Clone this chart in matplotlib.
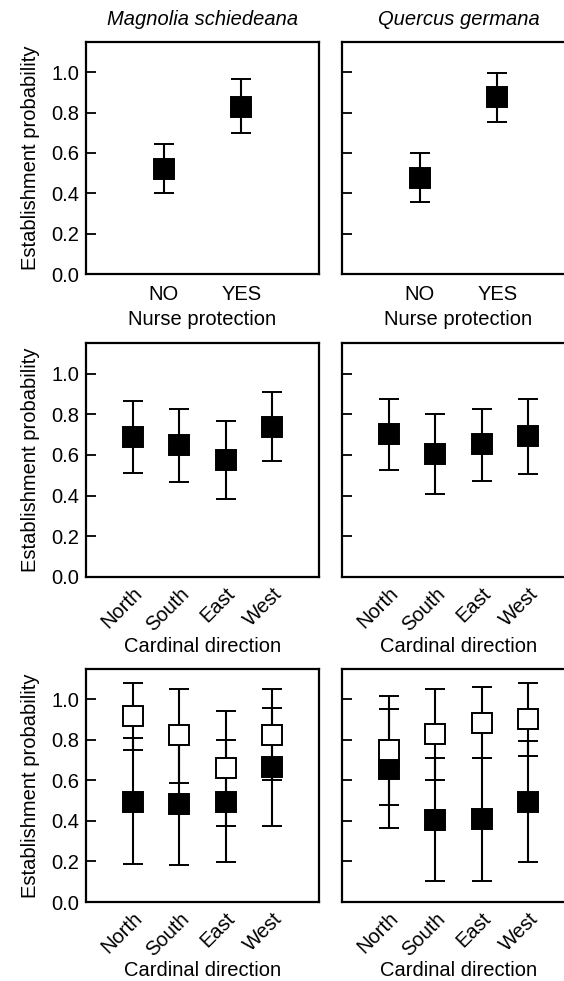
import matplotlib
matplotlib.use('Agg')
import matplotlib.pyplot as plt

plt.rcParams['font.family'] = ['Liberation Sans', 'DejaVu Sans']

species = ['Magnolia schiedeana', 'Quercus germana']
ylabel = 'Establishment probability'

# nurse protection
nurse_labels = ['NO', 'YES']
nurse_mag = [0.52, 0.83]
nurse_mag_lo = [0.40, 0.70]
nurse_mag_hi = [0.645, 0.965]
nurse_que = [0.475, 0.875]
nurse_que_lo = [0.357, 0.752]
nurse_que_hi = [0.60, 0.995]

# cardinal direction
directions = ['North', 'South', 'East', 'West']
dir_mag = [0.688, 0.647, 0.574, 0.737]
dir_mag_lo = [0.513, 0.467, 0.381, 0.569]
dir_mag_hi = [0.863, 0.825, 0.765, 0.910]
dir_que = [0.704, 0.606, 0.652, 0.691]
dir_que_lo = [0.528, 0.41, 0.47, 0.508]
dir_que_hi = [0.874, 0.799, 0.828, 0.873]

# cardinal direction x nurse (open = under nurse, filled = open area)
mag_open = [0.919, 0.824, 0.659, 0.824]
mag_open_lo = [0.75, 0.588, 0.375, 0.601]
mag_open_hi = [1.082, 1.049, 0.942, 1.051]
mag_fill = [0.494, 0.483, 0.494, 0.664]
mag_fill_lo = [0.186, 0.181, 0.198, 0.375]
mag_fill_hi = [0.807, 0.78, 0.799, 0.956]
que_open = [0.75, 0.827, 0.884, 0.901]
que_open_lo = [0.478, 0.601, 0.709, 0.72]
que_open_hi = [1.016, 1.049, 1.059, 1.079]
que_fill = [0.654, 0.404, 0.408, 0.494]
que_fill_lo = [0.363, 0.104, 0.104, 0.195]
que_fill_hi = [0.951, 0.709, 0.712, 0.795]

W, H = 564, 981
fig = plt.figure(figsize=(W / 100, H / 100), dpi=100)

lefts = [86, 342]
rows = [(42, 274), (343, 577), (669, 902)]
aw = 233
FS = 14.5


def make_ax(col, row):
    top, bot = rows[row]
    ax = fig.add_axes([lefts[col] / W, 1 - bot / H, aw / W, (bot - top) / H])
    ax.set_ylim(0, 1.15)
    ax.set_yticks([0, 0.2, 0.4, 0.6, 0.8, 1.0])
    ax.tick_params(axis='y', direction='in', length=7, width=1.3, labelsize=FS, pad=5)
    ax.tick_params(axis='x', length=0, labelsize=FS)
    for s in ax.spines.values():
        s.set_linewidth(1.6)
    if col == 0:
        ax.set_ylabel(ylabel, fontsize=FS, labelpad=8)
    else:
        ax.set_yticklabels([])
    return ax


def errs(vals, lo, hi):
    return [[v - l for v, l in zip(vals, lo)], [h - v for v, h in zip(vals, hi)]]


def draw(ax, x, vals, lo, hi, face):
    ax.errorbar(x, vals, yerr=errs(vals, lo, hi), fmt='s', color='black',
                mfc=face, mec='black', ms=14, mew=1.4, elinewidth=1.5,
                capsize=7, capthick=1.5)


# top row
for col, (v, lo, hi) in enumerate([(nurse_mag, nurse_mag_lo, nurse_mag_hi),
                                   (nurse_que, nurse_que_lo, nurse_que_hi)]):
    ax = make_ax(col, 0)
    x = [1, 2]
    draw(ax, x, v, lo, hi, 'black')
    ax.set_xlim(0, 3)
    ax.set_xticks(x)
    ax.set_xticklabels(nurse_labels)
    ax.tick_params(axis='x', pad=8)
    ax.set_xlabel('Nurse protection', fontsize=FS, labelpad=4)
    ax.set_title(species[col], fontsize=FS, style='italic', pad=12)

# middle row
for col, (v, lo, hi) in enumerate([(dir_mag, dir_mag_lo, dir_mag_hi),
                                   (dir_que, dir_que_lo, dir_que_hi)]):
    ax = make_ax(col, 1)
    x = [1, 2, 3, 4]
    draw(ax, x, v, lo, hi, 'black')
    ax.set_xlim(0, 5)
    ax.set_xticks(x)
    ax.set_xticklabels(directions, rotation=45, ha='right', rotation_mode='anchor')
    ax.tick_params(axis='x', pad=5)
    ax.set_xlabel('Cardinal direction', fontsize=FS, labelpad=2)

# bottom row
groups = [(mag_fill, mag_fill_lo, mag_fill_hi, mag_open, mag_open_lo, mag_open_hi),
          (que_fill, que_fill_lo, que_fill_hi, que_open, que_open_lo, que_open_hi)]
for col, (fv, flo, fhi, ov, olo, ohi) in enumerate(groups):
    ax = make_ax(col, 2)
    x = [1, 2, 3, 4]
    draw(ax, x, fv, flo, fhi, 'black')
    draw(ax, x, ov, olo, ohi, 'white')
    ax.set_xlim(0, 5)
    ax.set_xticks(x)
    ax.set_xticklabels(directions, rotation=45, ha='right', rotation_mode='anchor')
    ax.tick_params(axis='x', pad=5)
    ax.set_xlabel('Cardinal direction', fontsize=FS, labelpad=1)

fig.savefig('out.png', dpi=100)
